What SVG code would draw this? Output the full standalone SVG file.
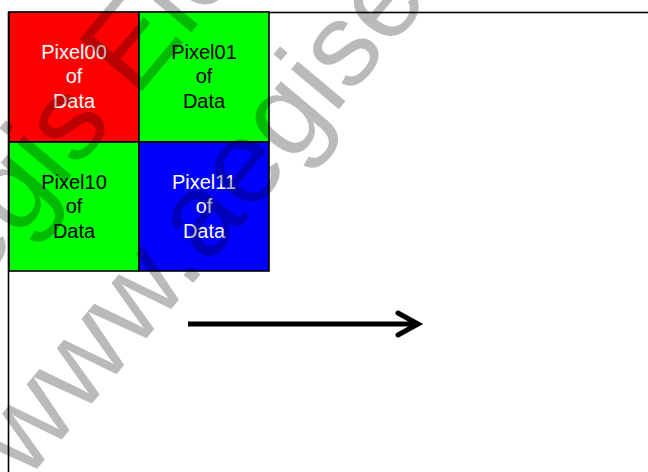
<svg xmlns="http://www.w3.org/2000/svg" width="648" height="472" viewBox="0 0 648 472">
<style>
.cell{stroke:#000;stroke-width:1.6}
.lbl{font-family:"Liberation Sans",Arial,sans-serif;font-size:20px;text-anchor:middle}
.wm{font-family:"Liberation Sans",Arial,sans-serif;font-size:118px;fill:#000;fill-opacity:0.27}
</style>
<rect width="648" height="472" fill="#fff"/>
<g id="frame"><rect x="8.5" y="12.5" width="660" height="480" fill="none" stroke="#000" stroke-width="1.6"/></g>
<g id="pixel00"><rect class="cell" x="9" y="12" width="130" height="130" fill="#ff0000"/>
<text class="lbl" fill="#fff"><tspan x="74" y="59">Pixel00</tspan><tspan x="74" y="83">of</tspan><tspan x="74" y="108">Data</tspan></text></g>
<g id="pixel01"><rect class="cell" x="139" y="12" width="130" height="130" fill="#00ff00"/>
<text class="lbl" fill="#000"><tspan x="204" y="59">Pixel01</tspan><tspan x="204" y="83">of</tspan><tspan x="204" y="108">Data</tspan></text></g>
<g id="pixel10"><rect class="cell" x="9" y="142" width="130" height="129" fill="#00ff00"/>
<text class="lbl" fill="#000"><tspan x="74" y="189">Pixel10</tspan><tspan x="74" y="213">of</tspan><tspan x="74" y="238">Data</tspan></text></g>
<g id="pixel11"><rect class="cell" x="139" y="142" width="130" height="129" fill="#0000ff"/>
<text class="lbl" fill="#fff"><tspan x="204" y="189">Pixel11</tspan><tspan x="204" y="213">of</tspan><tspan x="204" y="238">Data</tspan></text></g>
<g id="connectors" fill="none" stroke="#000" stroke-width="5" stroke-linecap="round">
<line x1="188" y1="324" x2="416" y2="324" stroke-linecap="butt"/>
<polyline points="398,313 418,324 398,335" stroke-linejoin="miter"/>
</g>
<g id="watermark">
<text class="wm" transform="translate(-75.2 350) rotate(-50)">Aegis Ele</text>
<text class="wm" transform="translate(26 482) rotate(-50)">www.aegise</text>
</g>
</svg>
